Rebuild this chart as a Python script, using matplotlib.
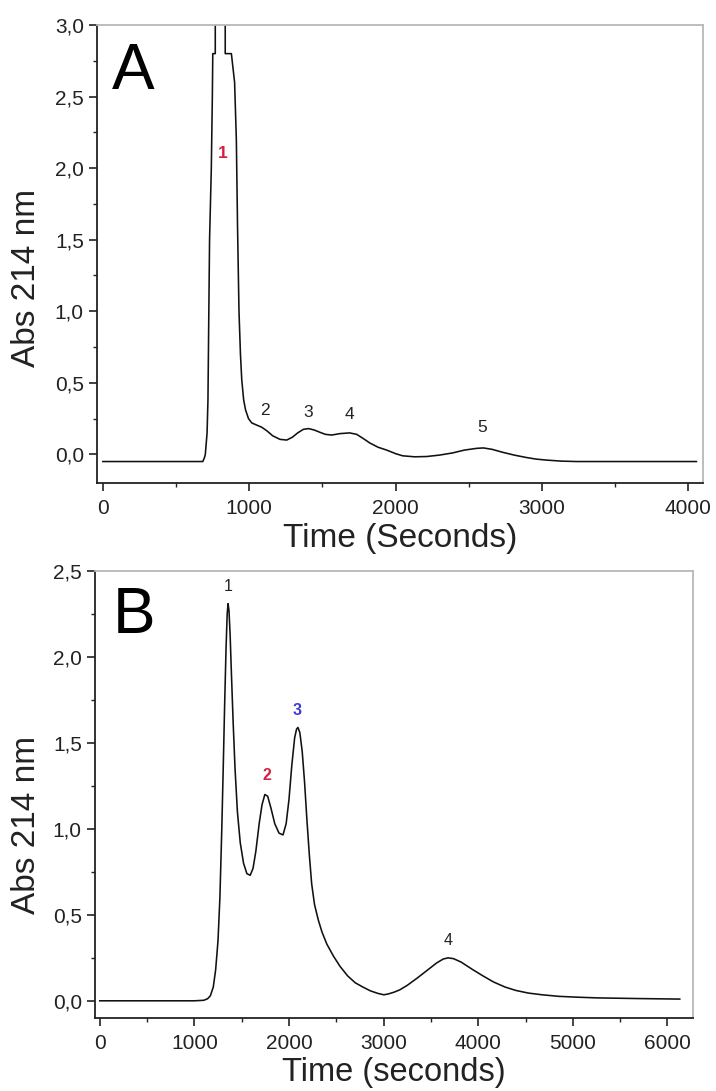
import matplotlib
matplotlib.use("Agg")
import matplotlib.pyplot as plt
from matplotlib import ticker

# ---------------- data ----------------
time_a = [0, 683, 695, 700, 712, 718, 724, 729, 741, 748, 751, 768, 768, 836, 836, 878,
          900, 912, 920, 930, 940, 949, 962, 975, 995, 1017, 1050, 1085, 1120, 1160,
          1210, 1256, 1295, 1331, 1370, 1406, 1445, 1481, 1520, 1563, 1620, 1686,
          1734, 1780, 1823, 1880, 1939, 2000, 2048, 2130, 2212, 2300, 2389, 2470,
          2553, 2600, 2660, 2730, 2810, 2894, 2960, 3031, 3130, 3235, 4055]
abs_a = [-0.05, -0.05, -0.02, 0.0, 0.15, 0.38, 1.0, 1.5, 2.0, 2.5, 2.8, 2.8, 3.6, 3.6, 2.8, 2.8,
         2.6, 2.2, 1.6, 1.0, 0.7, 0.52, 0.38, 0.31, 0.25, 0.22, 0.205, 0.19, 0.165, 0.13,
         0.105, 0.10, 0.12, 0.15, 0.175, 0.18, 0.17, 0.155, 0.14, 0.135, 0.145, 0.15,
         0.14, 0.11, 0.08, 0.05, 0.03, 0.005, -0.01, -0.017, -0.015, -0.005, 0.01, 0.03,
         0.042, 0.045, 0.035, 0.015, -0.005, -0.022, -0.033, -0.04, -0.047, -0.05, -0.05]

peak_labels_a = ["1", "2", "3", "4", "5"]
peak_t_a = [819, 1106, 1406, 1686, 2594]
peak_v_a = [2.10, 0.31, 0.29, 0.28, 0.19]
peak_colors_a = ["#d42040", "#222222", "#222222", "#222222", "#222222"]

time_b = [0, 1000, 1100, 1140, 1170, 1200, 1225, 1250, 1270, 1290, 1305, 1320, 1335,
          1347, 1356, 1366, 1378, 1392, 1410, 1430, 1455, 1485, 1520, 1555, 1590,
          1620, 1650, 1685, 1715, 1745, 1775, 1810, 1850, 1895, 1937, 1970, 2000,
          2030, 2060, 2080, 2095, 2115, 2140, 2165, 2190, 2215, 2240, 2270, 2310,
          2349, 2400, 2470, 2540, 2620, 2700, 2781, 2860, 2940, 3003, 3050, 3110,
          3172, 3250, 3350, 3467, 3560, 3630, 3682, 3740, 3820, 3946, 4050, 4160,
          4284, 4400, 4530, 4675, 4850, 5050, 5256, 5700, 6130]
abs_b = [0.0, 0.0, 0.003, 0.012, 0.03, 0.08, 0.18, 0.35, 0.6, 1.0, 1.35, 1.72, 2.05,
         2.25, 2.31, 2.27, 2.13, 1.9, 1.62, 1.35, 1.1, 0.92, 0.8, 0.74, 0.73,
         0.77, 0.87, 1.03, 1.14, 1.20, 1.19, 1.12, 1.03, 0.975, 0.965, 1.03, 1.17,
         1.37, 1.53, 1.58, 1.59, 1.56, 1.45, 1.27, 1.05, 0.85, 0.68, 0.56, 0.47,
         0.40, 0.33, 0.26, 0.20, 0.145, 0.105, 0.08, 0.058, 0.043, 0.035, 0.04, 0.05,
         0.064, 0.09, 0.13, 0.18, 0.22, 0.243, 0.25, 0.245, 0.225, 0.18, 0.145, 0.11,
         0.08, 0.06, 0.045, 0.035, 0.026, 0.021, 0.017, 0.013, 0.01]

peak_labels_b = ["1", "2", "3", "4"]
peak_t_b = [1356, 1766, 2084, 3682]
peak_v_b = [2.41, 1.31, 1.69, 0.35]
peak_colors_b = ["#222222", "#d42040", "#3a3ad6", "#222222"]

# ---------------- figure ----------------
W, H = 716, 1091
fig = plt.figure(figsize=(W / 100, H / 100), dpi=100)
plt.rcParams['font.family'] = ['Liberation Sans', 'DejaVu Sans']


def px_rect(l, r, t, b):
    return [l / W, 1 - b / H, (r - l) / W, (b - t) / H]


comma = ticker.FuncFormatter(lambda v, p: f"{v:.1f}".replace('.', ','))


def style(ax):
    for s in ("top", "right"):
        ax.spines[s].set_color("#b8b8b8")
        ax.spines[s].set_linewidth(1.3)
    for s in ("left", "bottom"):
        ax.spines[s].set_color("#222222")
        ax.spines[s].set_linewidth(1.3)
    ax.tick_params(which="major", direction="out", length=5.5, width=1.2,
                   labelsize=15, colors="#222222", pad=6)
    ax.tick_params(which="minor", direction="out", length=3, width=1.0,
                   colors="#222222")
    ax.tick_params(axis="y", which="major", pad=4)
    ax.tick_params(top=False, right=False)
    ax.yaxis.set_major_formatter(comma)


# Panel A
axA = fig.add_axes(px_rect(97, 703, 25, 483))
axA.plot(time_a, abs_a, color="#111111", lw=1.15)
axA.set_xlim(-40, 4100)
axA.set_ylim(-0.2, 3.0)
axA.xaxis.set_major_locator(ticker.MultipleLocator(1000))
axA.xaxis.set_minor_locator(ticker.MultipleLocator(500))
axA.yaxis.set_major_locator(ticker.MultipleLocator(0.5))
axA.yaxis.set_minor_locator(ticker.MultipleLocator(0.25))
style(axA)
for lab, t, v, c in zip(peak_labels_a, peak_t_a, peak_v_a, peak_colors_a):
    axA.text(t, v, lab, color=c, fontsize=12.5, ha="center", va="center",
             fontweight="bold" if c != "#222222" else "normal")
fig.text(112 / W, 1 - 89 / H, "A", fontsize=46, ha="left", va="baseline")
fig.text(27 / W, 1 - 278 / H, "Abs 214 nm", fontsize=24, rotation=90,
         ha="center", va="center", color="#222222")
fig.text(400 / W, 1 - 547 / H, "Time (Seconds)", fontsize=24,
         ha="center", va="baseline", color="#222222")

# Panel B
axB = fig.add_axes(px_rect(95, 693, 571, 1018))
axB.plot(time_b, abs_b, color="#111111", lw=1.15)
axB.set_xlim(-50, 6270)
axB.set_ylim(-0.1, 2.5)
axB.xaxis.set_major_locator(ticker.MultipleLocator(1000))
axB.xaxis.set_minor_locator(ticker.MultipleLocator(500))
axB.yaxis.set_major_locator(ticker.MultipleLocator(0.5))
axB.yaxis.set_minor_locator(ticker.MultipleLocator(0.25))
style(axB)
for lab, t, v, c in zip(peak_labels_b, peak_t_b, peak_v_b, peak_colors_b):
    axB.text(t, v, lab, color=c, fontsize=11.5, ha="center", va="center",
             fontweight="bold" if c != "#222222" else "normal")
fig.text(113 / W, 1 - 633 / H, "B", fontsize=46, ha="left", va="baseline")
fig.text(27 / W, 1 - 825 / H, "Abs 214 nm", fontsize=24, rotation=90,
         ha="center", va="center", color="#222222")
fig.text(394 / W, 1 - 1081 / H, "Time (seconds)", fontsize=23.5,
         ha="center", va="baseline", color="#222222")

fig.savefig("out.png", dpi=100)
